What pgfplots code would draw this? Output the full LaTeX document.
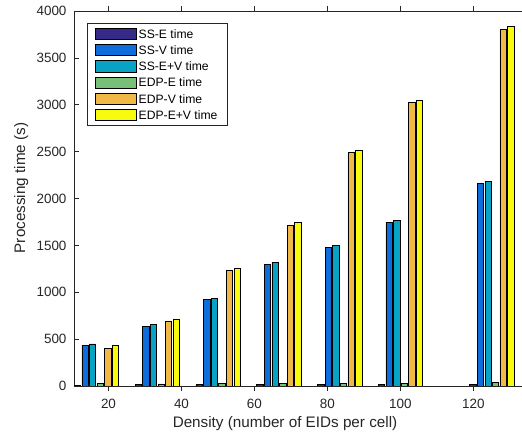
\documentclass[border=0pt]{standalone}
\usepackage{pgfplots}
\pgfplotsset{compat=1.18}
\usepackage{fontspec}
\setmainfont{Liberation Sans}
\definecolor{c1}{rgb}{0.2081,0.1663,0.5292}
\definecolor{c2}{rgb}{0.0500,0.4300,0.8600}
\definecolor{c3}{rgb}{0.0300,0.6400,0.7700}
\definecolor{c4}{rgb}{0.4700,0.7500,0.4700}
\definecolor{c5}{rgb}{0.9400,0.7200,0.2800}
\definecolor{c6}{rgb}{0.9763,0.9831,0.0538}
\definecolor{axgray}{rgb}{0.15,0.15,0.15}
\pgfplotsset{
  mybar/.style={fill=#1, draw=black, line width=0.5bp,
    legend image code/.code={\draw[fill=#1, draw=black, line width=0.5bp] (0bp,-5.6bp) rectangle (41bp,5.6bp);}},
}
\begin{document}
\begin{tikzpicture}
\begin{axis}[
  at={(0,0)}, anchor=south west,
  scale only axis, width=448bp, height=375bp,
  xmin=10.55, xmax=133.3, ymin=0, ymax=4000,
  xtick={20,40,60,80,100,120}, ytick={0,500,...,4000},
  axis y line*=left, axis x line*=box,
  xtick pos=both, ytick pos=left,
  tick align=inside, major tick length=5bp,
  axis line style={draw=axgray, line width=0.6bp},
  every tick/.style={draw=axgray, line width=0.6bp},
  tick label style={font=\fontsize{13.5}{16}\selectfont, text=axgray},
  /pgf/number format/assume math mode=true,
  /pgf/number format/set thousands separator={},
  xticklabel style={yshift=-5bp},
  yticklabel style={xshift=-4bp},
  label style={font=\fontsize{15.3}{18}\selectfont, text=axgray},
  xlabel={Density (number of EIDs per cell)},
  ylabel={Processing time (s)},
  xlabel style={at={(axis description cs:0.471,-0.1)}, anchor=center},
  ylabel style={at={(axis description cs:-0.118,0.528)}, anchor=center},
  ybar, bar width=1.73,
  legend cell align=left,
  legend style={at={(axis description cs:0.029,0.968)}, anchor=north west,
    draw=axgray, line width=0.5bp, font=\fontsize{12.2}{14}\selectfont,
    text=black, inner xsep=8bp, inner ysep=2.5bp, row sep=0bp,
    nodes={inner ysep=3.6bp, text height=9bp, text depth=0bp}},
]
\addplot[mybar=c1, bar shift=-5.2] coordinates {(16.667,10) (33.333,14) (50,16) (66.667,18) (83.333,17) (100,18) (125,20)};
\addplot[mybar=c2, bar shift=-3.12] coordinates {(16.667,430) (33.333,633) (50,925) (66.667,1298) (83.333,1479) (100,1746) (125,2162)};
\addplot[mybar=c3, bar shift=-1.04] coordinates {(16.667,448) (33.333,654) (50,935) (66.667,1320) (83.333,1497) (100,1768) (125,2184)};
\addplot[mybar=c4, bar shift=1.04] coordinates {(16.667,25) (33.333,22) (50,28) (66.667,30) (83.333,25) (100,30) (125,35)};
\addplot[mybar=c5, bar shift=3.12] coordinates {(16.667,405) (33.333,693) (50,1234) (66.667,1717) (83.333,2493) (100,3023) (125,3805)};
\addplot[mybar=c6, bar shift=5.2] coordinates {(16.667,434) (33.333,715) (50,1255) (66.667,1742) (83.333,2518) (100,3048) (125,3835)};
\legend{SS-E time, SS-V time, SS-E+V time, EDP-E time, EDP-V time, EDP-E+V time}
\end{axis}
\pgfresetboundingbox
\path[use as bounding box] (-74bp,-46bp) rectangle (448bp,386bp);
\end{tikzpicture}
\end{document}
